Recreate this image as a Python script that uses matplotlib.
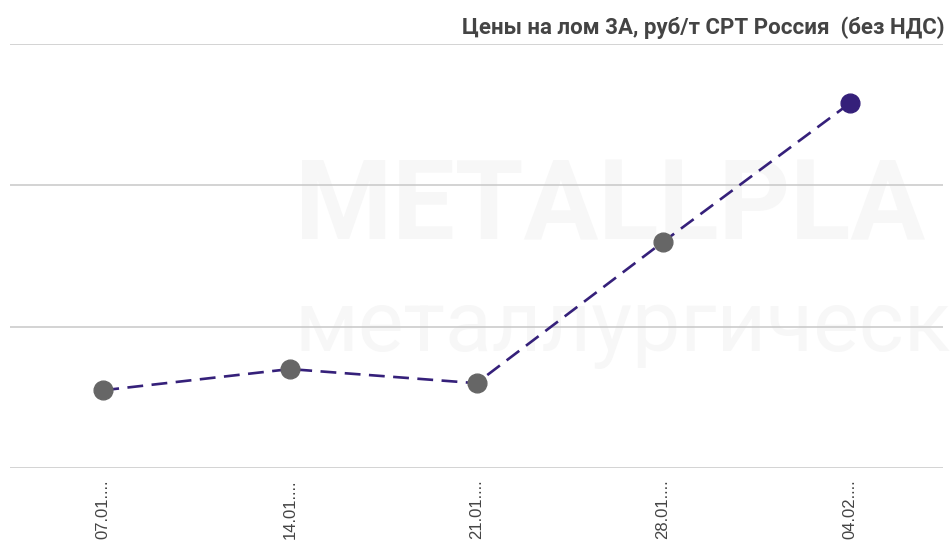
import matplotlib
matplotlib.use("Agg")
import matplotlib.pyplot as plt

# ===========================================
# Цены на лом 3А
# ===========================================

dates = ["07.01....", "14.01....", "21.01....", "28.01....", "04.02...."]
prices = [18550, 18700, 18600, 19600, 20580]
grid_levels = [18000, 19000, 20000, 21000]

title = "Цены на лом 3А, руб/т CPT Россия  (без НДС)"

line_color = "#35207a"
dot_color = "#666666"

fig = plt.figure(figsize=(9.5, 5.45), dpi=100)
ax = fig.add_axes([10 / 950, 77 / 545, 933 / 950, 424 / 545])

# водяной знак (очень бледный, виден только кусок как на оригинале)
ax.text(0.305, 0.61, "METALLPLA", transform=ax.transAxes, fontsize=80,
        fontweight="bold", family="Roboto", color="#f7f7f7",
        va="center", ha="left", zorder=0)
ax.text(0.305, 0.33, "металлургическ", transform=ax.transAxes, fontsize=62,
        family="Roboto", color="#f7f7f7", va="center", ha="left",
        zorder=0)

x = list(range(len(dates)))
ax.plot(x, prices, color=line_color, lw=1.9, dashes=(6, 3.2), zorder=3)
colors = [dot_color] * (len(x) - 1) + [line_color]
for xi, yi, c in zip(x, prices, colors):
    ax.plot(xi, yi, "o", color=c, markersize=13.5, zorder=4)

for g in grid_levels:
    ax.axhline(g, color="#c8c8c8", lw=1.1, zorder=1)

ax.set_xlim(-0.5, len(dates) - 0.5)
ax.set_ylim(grid_levels[0], grid_levels[-1])
ax.set_xticks(x)
ax.set_xticklabels(dates, rotation=90, family="Liberation Sans",
                   fontsize=12, color="#444444", va="top")
ax.tick_params(axis="x", length=0, pad=8)
ax.set_yticks([])
for s in ax.spines.values():
    s.set_visible(False)

fig.text(945 / 950, 1 - 28 / 545, title, ha="right", va="center",
         fontsize=16, fontweight="bold", family="Roboto", color="#444444")

fig.savefig("out.png", dpi=100, facecolor="white")
